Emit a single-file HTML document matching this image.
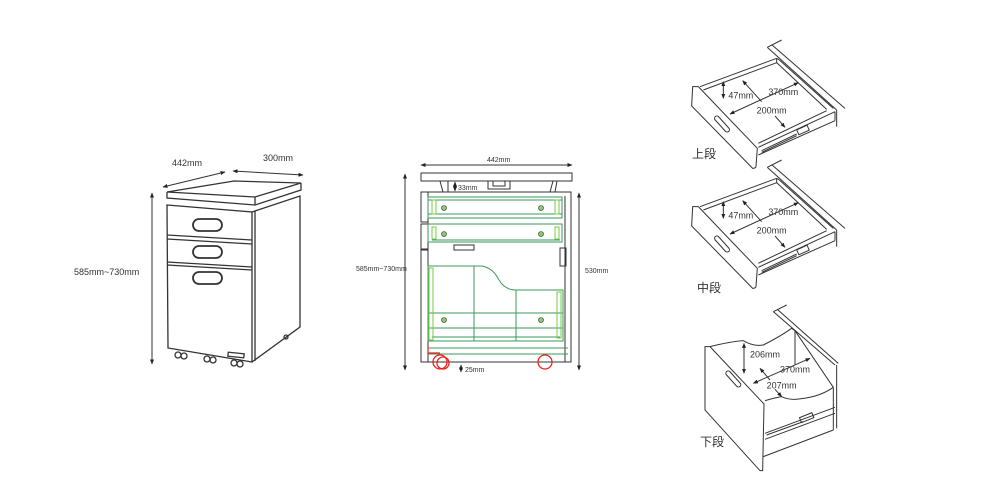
<!DOCTYPE html>
<html><head><meta charset="utf-8"><style>
html,body{margin:0;padding:0;background:#fff;}
svg{display:block}
text{font-family:"Liberation Sans","Noto Sans CJK JP",sans-serif;fill:#333}
</style></head><body>
<svg width="1000" height="500" viewBox="0 0 1000 500" xmlns="http://www.w3.org/2000/svg">
<defs>
<marker id="a" viewBox="0 0 10 10" refX="9" refY="5" markerWidth="5" markerHeight="5" orient="auto-start-reverse"><path d="M0,1 L10,5 L0,9 Z" fill="#222"/></marker>
</defs>
<!-- LEFT CABINET -->
<g fill="none" stroke="#333" stroke-width="1.3">
<polygon points="167,192 234,181 301,183 255,197" fill="#fff"/>
<polyline points="167,192 167,198 255,205 301,190 301,183"/>
<line x1="255" y1="197" x2="255" y2="205"/>
<polygon points="167,205 252,212 252,362 168,348" fill="#fff"/>
<polyline points="252,212 300,196 300,327 252,362"/>
<line x1="255" y1="211" x2="255" y2="361"/>
<line x1="167" y1="235" x2="252" y2="240"/>
<line x1="167" y1="239" x2="252" y2="244"/>
<line x1="167" y1="262" x2="252" y2="267"/>
<line x1="167" y1="265" x2="252" y2="270"/>
<rect x="193" y="219" width="29" height="12" rx="6" stroke-width="1.8"/>
<rect x="193" y="246" width="29" height="12" rx="6" stroke-width="1.8"/>
<rect x="193" y="272" width="29" height="12" rx="6" stroke-width="1.8"/>
<rect x="228" y="353" width="16" height="4" transform="rotate(6 236 355)"/>
<circle cx="178" cy="355" r="3"/><circle cx="184" cy="356" r="3"/>
<circle cx="207" cy="359" r="3"/><circle cx="213" cy="360" r="3"/>
<circle cx="234" cy="363" r="3"/><circle cx="240" cy="364" r="3"/>
<circle cx="286" cy="337" r="2"/>
<line x1="152" y1="193" x2="152" y2="364" stroke-width="1" marker-start="url(#a)" marker-end="url(#a)"/>
<line x1="163" y1="187" x2="225" y2="172" stroke-width="1" marker-start="url(#a)" marker-end="url(#a)"/>
<line x1="233" y1="171" x2="303" y2="175" stroke-width="1" marker-start="url(#a)" marker-end="url(#a)"/>
</g>
<text x="172" y="166" font-size="9">442mm</text>
<text x="263" y="161" font-size="9">300mm</text>
<text x="74" y="275" font-size="9">585mm~730mm</text>

<!-- MIDDLE FRONT VIEW -->
<g fill="none" stroke="#333" stroke-width="1">
<line x1="421" y1="165" x2="572" y2="165" marker-start="url(#a)" marker-end="url(#a)"/>
<rect x="421" y="173" width="151" height="8" fill="#fff"/>
<polyline points="440,181 443,192"/><polyline points="448,181 448,192"/>
<polyline points="553,181 550,192"/><polyline points="557,181 555,192"/>
<rect x="488" y="181" width="22" height="8"/><rect x="493" y="181" width="12" height="5"/>
<rect x="428" y="192" width="143" height="170"/>
<rect x="421" y="192" width="7" height="30"/><rect x="421" y="224" width="7" height="25"/><rect x="421" y="250" width="7" height="112"/>
<line x1="565" y1="196" x2="565" y2="362"/>
<rect x="560" y="248" width="6" height="18"/>
<rect x="454" y="245" width="20" height="5"/>
<line x1="405" y1="174" x2="405" y2="370" marker-start="url(#a)" marker-end="url(#a)"/>
<line x1="579" y1="193" x2="579" y2="370" marker-start="url(#a)" marker-end="url(#a)"/>
<line x1="455" y1="182" x2="455" y2="191" marker-start="url(#a)" marker-end="url(#a)"/>
<line x1="461" y1="365" x2="461" y2="372" marker-start="url(#a)" marker-end="url(#a)"/>
</g>
<g fill="none" stroke="#3a9a5a" stroke-width="1">
<rect x="428" y="197" width="134" height="21"/><line x1="428" y1="200" x2="562" y2="200"/><line x1="428" y1="214" x2="562" y2="214"/>
<rect x="428" y="224" width="134" height="18"/><line x1="432" y1="240" x2="560" y2="240"/>
<path d="M428,266 L482,266 Q493,268 499,280 Q505,290 516,290 L563,290 L563,341 L428,341 Z"/>
<line x1="474" y1="266" x2="474" y2="341"/><line x1="516" y1="290" x2="516" y2="341"/>
<line x1="428" y1="313" x2="563" y2="313"/><line x1="428" y1="328" x2="563" y2="328"/><line x1="432" y1="337" x2="560" y2="337"/>
<line x1="428" y1="348" x2="568" y2="348"/><line x1="428" y1="354" x2="568" y2="354"/>
</g>
<g fill="none" stroke="#7c4" stroke-width="1">
<rect x="432" y="200" width="4" height="14"/><rect x="555" y="200" width="4" height="14"/>
<rect x="432" y="227" width="4" height="12"/><rect x="555" y="227" width="4" height="12"/>
<rect x="429" y="268" width="4" height="72"/><rect x="557" y="292" width="4" height="46"/>
</g>
<g fill="#8c6" stroke="#333" stroke-width="0.6">
<circle cx="444" cy="208" r="2.5"/><circle cx="541" cy="208" r="2.5"/>
<circle cx="444" cy="234" r="2.5"/><circle cx="541" cy="234" r="2.5"/>
<circle cx="444" cy="320" r="2.5"/><circle cx="541" cy="320" r="2.5"/>
</g>
<g fill="none" stroke="#e22" stroke-width="1.3">
<polyline points="428,346 428,353 440,353"/>
<circle cx="440" cy="362" r="7"/><circle cx="443" cy="363" r="6"/>
<circle cx="545" cy="362" r="7"/>
</g>
<text x="487" y="162" font-size="7">442mm</text>
<text x="458" y="190" font-size="7">33mm</text>
<text x="465" y="372" font-size="7">25mm</text>
<text x="356" y="271" font-size="7">585mm~730mm</text>
<text x="585" y="273" font-size="7">530mm</text>

<!-- DRAWER template (zoom coords) -->
<g id="d1" transform="translate(680,40) scale(0.3333)" fill="none" stroke="#333" stroke-width="3">
<polyline points="262,22 305,0"/><line x1="262" y1="22" x2="470" y2="210"/><line x1="275" y1="14" x2="495" y2="205"/>
<line x1="470" y1="210" x2="470" y2="260"/>
<line x1="60" y1="140" x2="290" y2="55"/><line x1="70" y1="150" x2="290" y2="68"/>
<line x1="290" y1="55" x2="298" y2="60"/><line x1="290" y1="55" x2="290" y2="68"/>
<line x1="298" y1="60" x2="460" y2="205"/><line x1="290" y1="68" x2="440" y2="208"/>
<line x1="235" y1="310" x2="440" y2="212"/>
<line x1="235" y1="322" x2="465" y2="215"/><line x1="235" y1="345" x2="465" y2="242"/><line x1="465" y1="215" x2="465" y2="242"/>
<line x1="245" y1="332" x2="350" y2="282"/><line x1="245" y1="337" x2="350" y2="287"/>
<rect x="352" y="262" width="34" height="16" transform="rotate(-24 369 270)"/>
<path d="M38,140 L55,140 L232,325 L228,380 Q226,385 218,385 L35,198 Z" fill="#fff"/>
<rect x="96" y="245" width="60" height="14" rx="7" transform="rotate(48 126 252)"/>
<line x1="130" y1="125" x2="130" y2="175" marker-start="url(#a)" marker-end="url(#a)"/>
<line x1="150" y1="222" x2="355" y2="128" marker-start="url(#a)" marker-end="url(#a)"/>
<line x1="188" y1="122" x2="245" y2="185" marker-start="url(#a)"/>
<line x1="285" y1="228" x2="315" y2="262" marker-end="url(#a)"/>
<text x="145" y="175" font-size="27" stroke="none">47mm</text>
<text x="265" y="165" font-size="27" stroke="none">370mm</text>
<text x="230" y="220" font-size="27" stroke="none">200mm</text>
</g>
<use href="#d1" transform="translate(0,120)"/>
<text x="692" y="158" font-size="12">上段</text>
<text x="697" y="292" font-size="12">中段</text>

<!-- BOTTOM DRAWER -->
<g transform="translate(690,300) scale(0.3333)" fill="none" stroke="#333" stroke-width="3">
<line x1="250" y1="35" x2="290" y2="15"/><line x1="250" y1="35" x2="435" y2="195"/><line x1="262" y1="28" x2="445" y2="190"/>
<line x1="440" y1="195" x2="440" y2="385"/>
<path d="M60,140 Q120,125 160,122 Q190,140 220,135 Q270,110 305,85"/>
<line x1="305" y1="85" x2="315" y2="92"/><line x1="315" y1="92" x2="315" y2="195"/>
<line x1="315" y1="92" x2="430" y2="262"/>
<path d="M225,302 Q260,292 275,290 Q300,302 335,296 Q390,290 430,262"/>
<line x1="430" y1="262" x2="430" y2="390"/>
<line x1="220" y1="470" x2="430" y2="390"/>
<line x1="225" y1="400" x2="435" y2="322"/><line x1="225" y1="418" x2="435" y2="340"/>
<line x1="230" y1="405" x2="340" y2="365"/>
<rect x="330" y="345" width="40" height="16" transform="rotate(-22 350 353)"/>
<path d="M45,140 L60,140 L222,312 L218,512 L210,512 L45,330 Z" fill="#fff"/>
<rect x="100" y="230" width="60" height="14" rx="7" transform="rotate(48 130 237)"/>
<line x1="162" y1="130" x2="162" y2="220" marker-start="url(#a)" marker-end="url(#a)"/>
<line x1="190" y1="250" x2="360" y2="175" marker-start="url(#a)" marker-end="url(#a)"/>
<line x1="210" y1="205" x2="240" y2="240" marker-start="url(#a)"/>
<line x1="255" y1="268" x2="275" y2="290" marker-end="url(#a)"/>
<text x="180" y="172" font-size="27" stroke="none">206mm</text>
<text x="270" y="218" font-size="27" stroke="none">370mm</text>
<text x="230" y="265" font-size="27" stroke="none">207mm</text>
</g>
<text x="700" y="446" font-size="12">下段</text>
</svg>
</body></html>
